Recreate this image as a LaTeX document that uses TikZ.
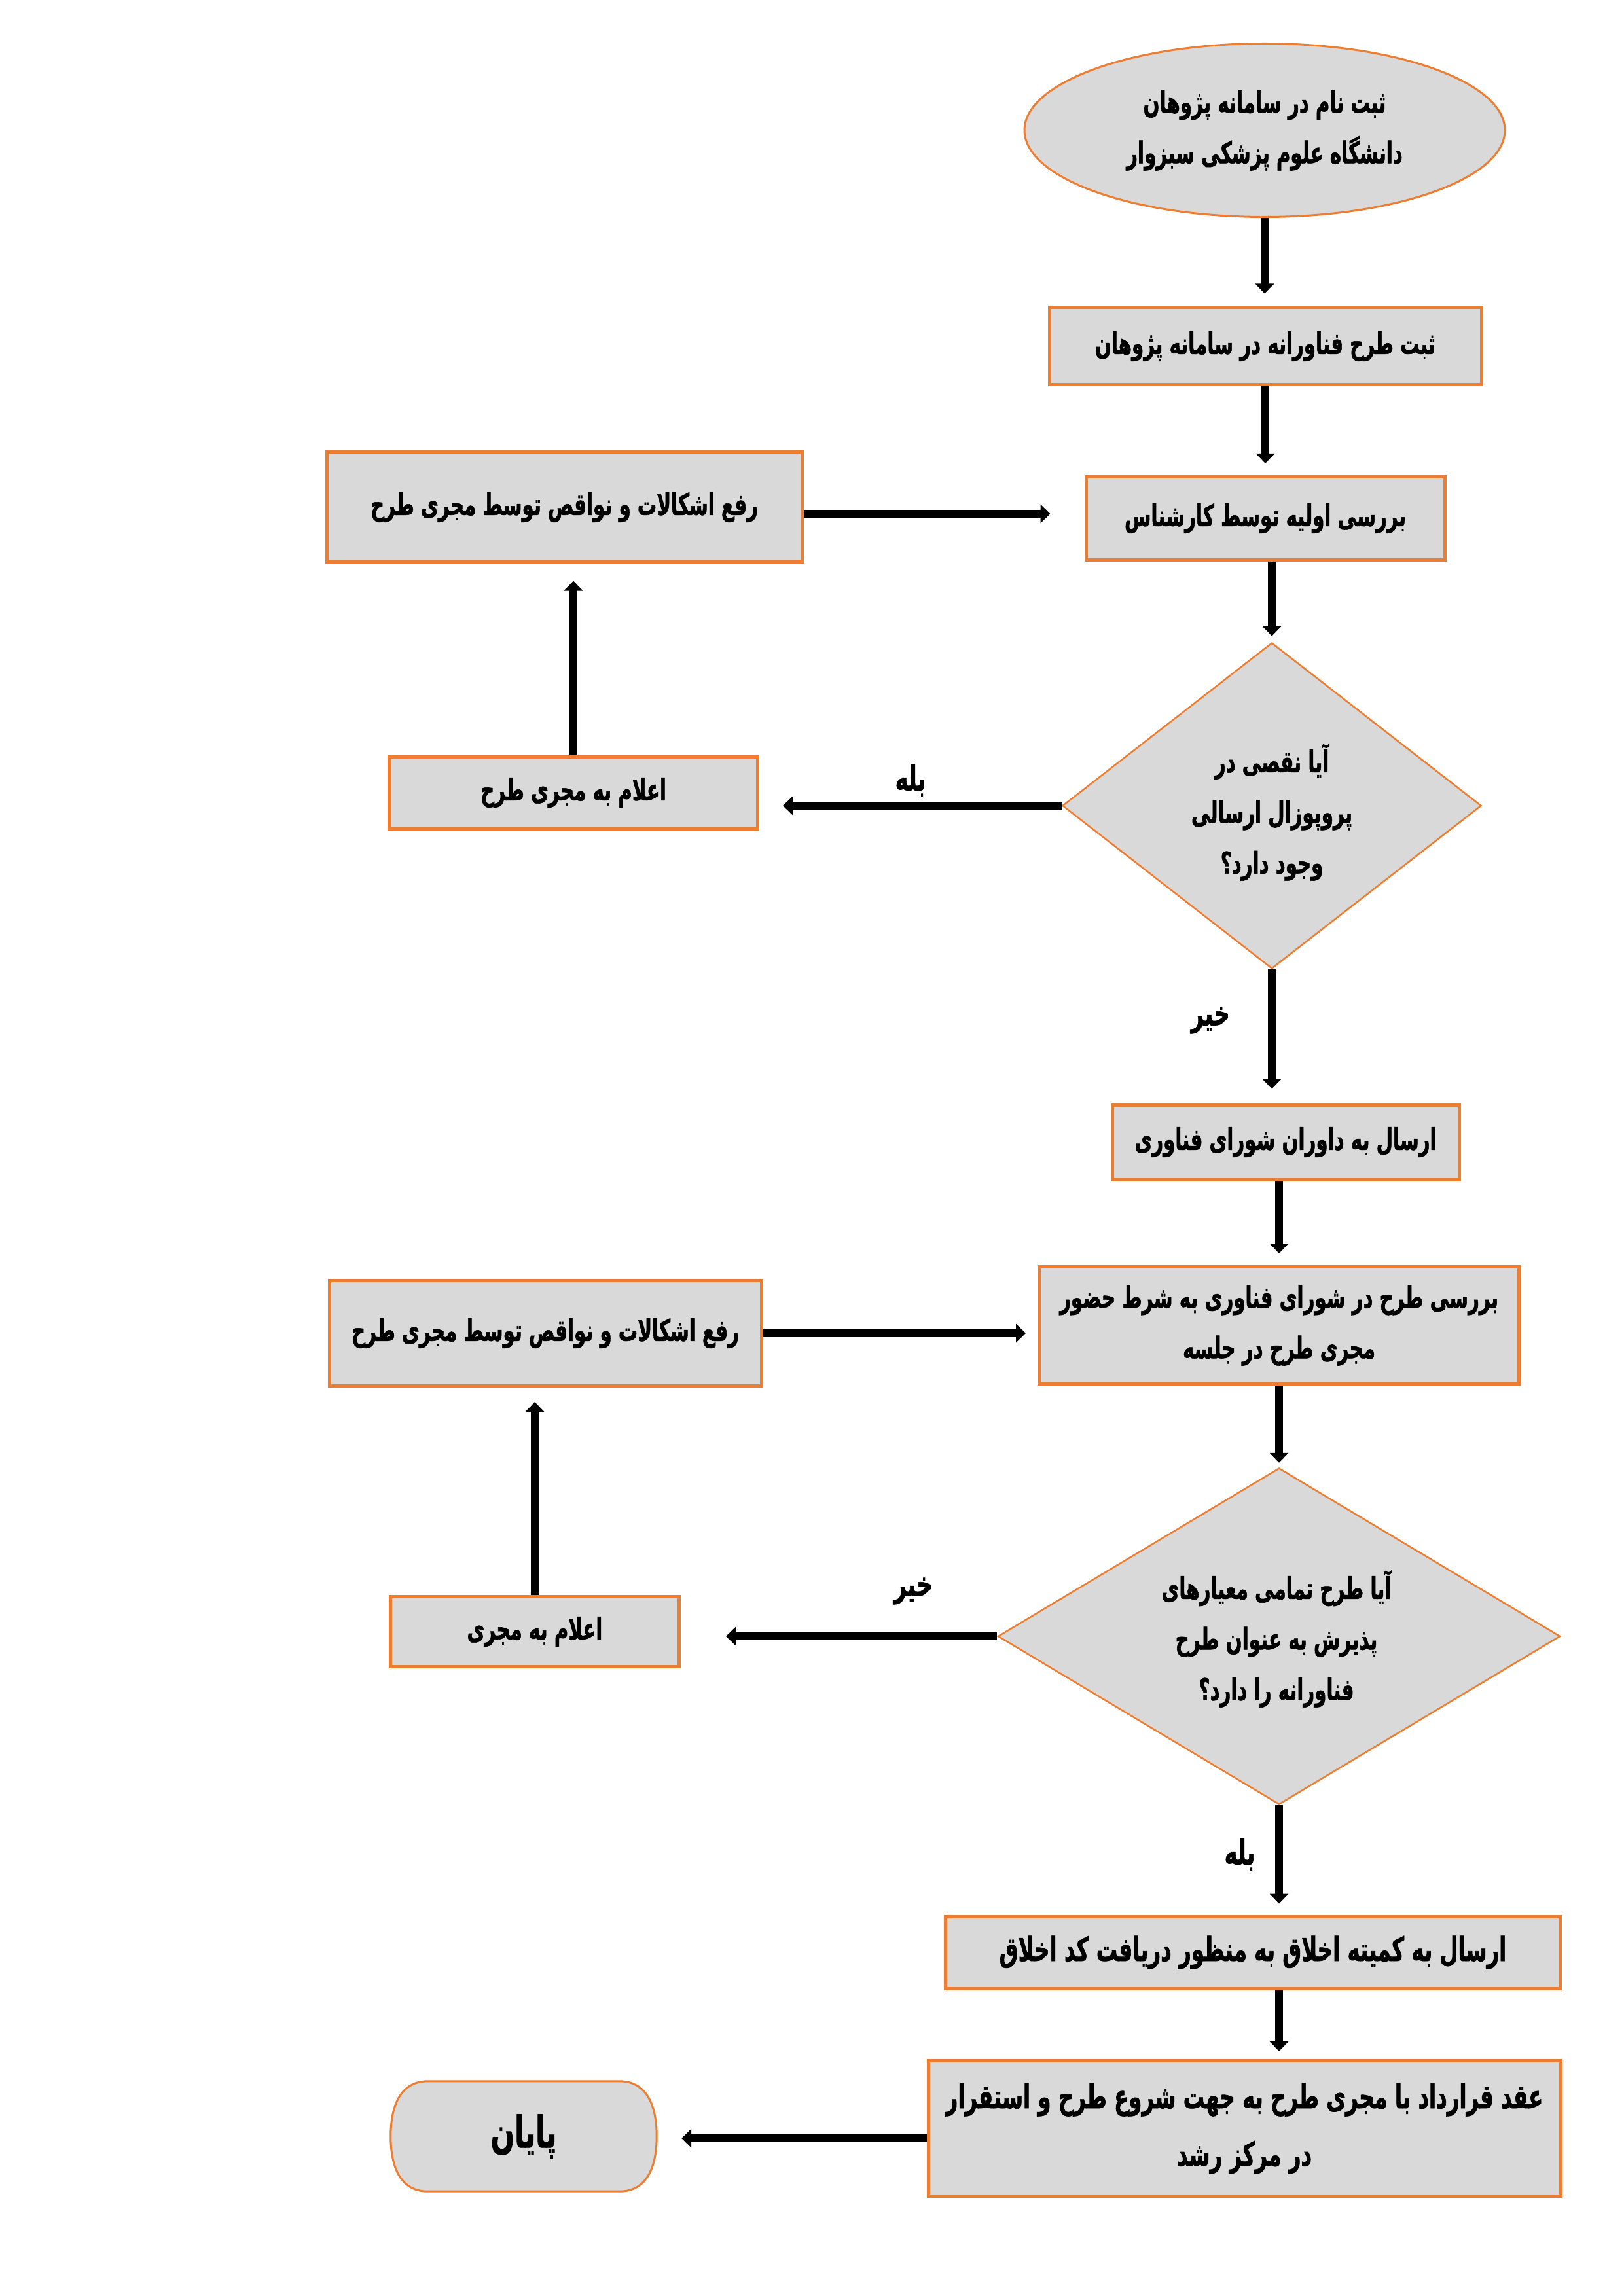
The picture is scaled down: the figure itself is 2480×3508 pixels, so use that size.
\documentclass[tikz,border=0pt]{standalone}
\usepackage{fontspec}
\usetikzlibrary{shapes.geometric,arrows.meta,calc,backgrounds}
\TeXXeTstate=1
\newfontfamily\fa[Script=Arabic,FakeStretch=0.64,FakeBold=1.2]{DejaVu Sans}
\definecolor{boxgray}{HTML}{D9D9D9}
\definecolor{boxorange}{HTML}{ED7D31}
\newcommand{\RL}[1]{\beginR #1\endR}
\tikzset{
  base/.style={fill=boxgray, draw=boxorange, inner sep=0pt, align=center, text=black,
    font=\fa\bfseries\fontsize{13}{22}\selectfont},
  rectbox/.style={base, rectangle, line width=0.5mm},
  bigbox/.style={rectbox, font=\fa\bfseries\fontsize{14.4}{25}\selectfont},
  ellbox/.style={base, ellipse, line width=0.3mm},
  diabox/.style={base, diamond, line width=0.25mm},
  txt/.style={inner sep=0pt, align=center, text=black, font=\fa\bfseries\fontsize{13}{22}\selectfont},
  lbl/.style={inner sep=0pt, text=black, font=\fa\bfseries\fontsize{15}{16}\selectfont},
  arr/.style={line width=1.2mm, -{Triangle[width=2.8mm,length=1.5mm]}},
}
\begin{document}
\begin{tikzpicture}[x=0.1mm, y=-0.1mm]
\path[use as bounding box] (0,0) rectangle (2480,3508);

% nodes
\node[ellbox, minimum width=73.4mm, minimum height=26.5mm] (e) at (1932,199)
  {\RL{ثبت نام در سامانه پژوهان}\\\RL{دانشگاه علوم پزشکی سبزوار}};
\node[rectbox, minimum width=66mm, minimum height=11.8mm] (b1) at (1933,529)
  {\RL{ثبت طرح فناورانه در سامانه پژوهان}};
\node[rectbox, minimum width=54.8mm, minimum height=12.7mm] (b2) at (1933,792)
  {\RL{بررسی اولیه توسط کارشناس}};
\node[rectbox, minimum width=72.6mm, minimum height=16.8mm] (L1) at (862,775)
  {\RL{رفع اشکالات و نواقص توسط مجری طرح}};
\node[rectbox, minimum width=56.3mm, minimum height=11mm] (n1) at (876,1211)
  {\RL{اعلام به مجری طرح}};
\node[diabox, minimum width=64mm, minimum height=49.8mm] (d1) at (1943,1231) {};
\node[txt] (d1t) at (1943,1241)
  {\RL{آیا نقصی در}\\\RL{پروپوزال ارسالی}\\\RL{وجود دارد؟}};
\node[rectbox, minimum width=53mm, minimum height=11.4mm] (b3) at (1964,1745)
  {\RL{ارسال به داوران شورای فناوری}};
\node[rectbox, minimum width=73.3mm, minimum height=17.9mm] (b4) at (1954,2025)
  {\RL{بررسی طرح در شورای فناوری به شرط حضور}\\\RL{مجری طرح در جلسه}};
\node[rectbox, minimum width=66mm, minimum height=16.1mm] (L2) at (833,2037)
  {\RL{رفع اشکالات و نواقص توسط مجری طرح}};
\node[rectbox, minimum width=44.1mm, minimum height=10.7mm] (n2) at (817,2493)
  {\RL{اعلام به مجری}};
\node[diabox, minimum width=85.9mm, minimum height=51.4mm] (d2) at (1954,2500) {};
\node[txt] (d2t) at (1950,2504)
  {\RL{آیا طرح تمامی معیارهای}\\\RL{پذیرش به عنوان طرح}\\\RL{فناورانه را دارد؟}};
\node[bigbox, minimum width=93.9mm, minimum height=11mm] (b5) at (1914,2983)
  {\RL{ارسال به کمیته اخلاق به منظور دریافت کد اخلاق}};
\node[bigbox, minimum width=96.6mm, minimum height=20.7mm] (b6) at (1901,3252)
  {\RL{عقد قرارداد با مجری طرح به جهت شروع طرح و استقرار}\\\RL{در مرکز رشد}};
\node[inner sep=0pt, minimum width=40.5mm, minimum height=16.7mm, text=black,
  font=\fa\bfseries\fontsize{19}{20}\selectfont] (end) at (800,3264) {\RL{پایان}};
\begin{scope}[on background layer]
\filldraw[fill=boxgray, draw=boxorange, line width=0.3mm]
  ([xshift=5.7mm]end.north west) -- ([xshift=-5.7mm]end.north east)
  to[out=0, in=90, looseness=1.1] (end.east)
  to[out=-90, in=0, looseness=1.1] ([xshift=-5.7mm]end.south east)
  -- ([xshift=5.7mm]end.south west)
  to[out=180, in=-90, looseness=1.1] (end.west)
  to[out=90, in=180, looseness=1.1] ([xshift=5.7mm]end.north west) -- cycle;
\end{scope}

% labels
\node[lbl] (y1) at (1391,1192) {\RL{بله}};
\node[lbl] (n1l) at (1849,1559) {\RL{خیر}};
\node[lbl] (n2l) at (1395,2431) {\RL{خیر}};
\node[lbl] (y2) at (1894,2833) {\RL{بله}};

% connectors
\draw[arr, shorten >=1.9mm] (e.south) -- (e.south |- b1.north);
\draw[arr, shorten >=1.8mm] (b1.south) -- (b1.south |- b2.north);
\draw[arr, shorten >=5.2mm] ([yshift=-1mm]L1.east) -- ([yshift=-1mm]L1.east -| b2.west);
\draw[arr, shorten >=0.9mm] (d1.north |- b2.south) -- (d1.north);
\draw[arr, shorten >=3.6mm] (d1.west) -- (d1.west -| n1.east);
\draw[arr, shorten >=2.6mm] (n1.north) -- (n1.north |- L1.south);
\draw[arr, shorten >=2.2mm] (d1.south) -- (d1.south |- b3.north);
\draw[arr, shorten >=1.8mm] (b4.north |- b3.south) -- (b4.north);
\draw[arr, shorten >=1.8mm] (L2.east) -- (L2.east -| b4.west);
\draw[arr, shorten >=0.7mm] (b4.south) -- (d2.north);
\draw[arr, shorten >=6.9mm] (d2.west) -- (d2.west -| n2.east);
\draw[arr, shorten >=2.2mm] (n2.north) -- (n2.north |- L2.south);
\draw[arr, shorten >=1.7mm] (d2.south) -- (d2.south |- b5.north);
\draw[arr, shorten >=1.2mm] (b5.south -| d2.south) -- (b6.north -| d2.south);
\draw[arr, shorten >=3.8mm] ([yshift=-1.5mm]b6.west) -- ([yshift=-1.5mm]b6.west -| end.east);
\end{tikzpicture}
\end{document}
